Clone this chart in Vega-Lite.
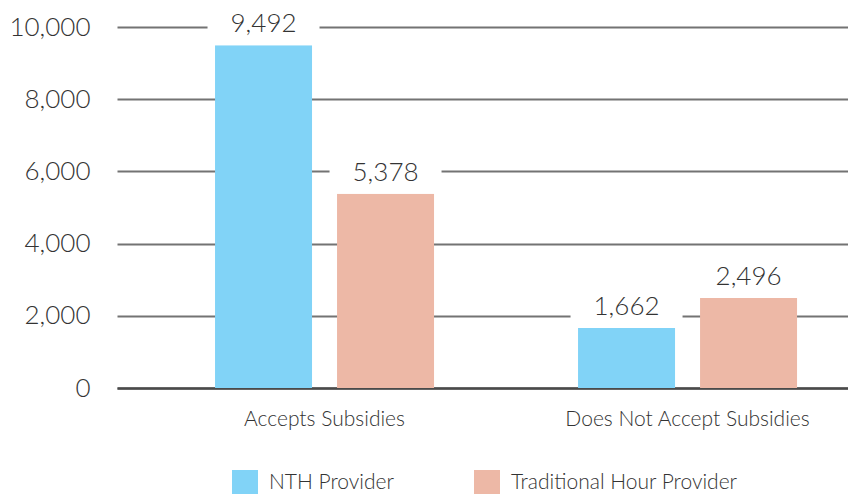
{
  "$schema": "https://vega.github.io/schema/vega-lite/v6.json",
  "width": 731,
  "height": 361,
  "autosize": {"type": "none"},
  "padding": {"left": 117, "top": 27, "right": 0, "bottom": 106},
  "background": "white",
  "config": {"view": {"stroke": null}, "font": "Lato"},
  "data": {
    "values": [
      {"group": "Accepts Subsidies", "provider": "NTH Provider", "value": 9492},
      {"group": "Accepts Subsidies", "provider": "Traditional Hour Provider", "value": 5378},
      {"group": "Does Not Accept Subsidies", "provider": "NTH Provider", "value": 1662},
      {"group": "Does Not Accept Subsidies", "provider": "Traditional Hour Provider", "value": 2496}
    ]
  },
  "encoding": {
    "x": {
      "field": "group",
      "type": "nominal",
      "sort": null,
      "scale": {"paddingInner": 0.3967, "paddingOuter": 0.2052, "align": 0.658},
      "axis": {
        "title": null,
        "labelAngle": 0,
        "ticks": false,
        "domain": true,
        "domainColor": "#4a4a4a",
        "domainWidth": 2.5,
        "labelFontSize": 21,
        "labelFont": "Lato",
        "labelFontWeight": 300,
        "labelColor": "#333333",
        "labelPadding": 20,
        "labelLimit": 500
      }
    },
    "xOffset": {
      "field": "provider",
      "type": "nominal",
      "sort": ["NTH Provider", "Traditional Hour Provider"],
      "scale": {"paddingInner": 0.205, "paddingOuter": 0}
    },
    "y": {
      "field": "value",
      "type": "quantitative",
      "scale": {"domain": [0, 10000], "nice": false},
      "axis": {
        "title": null,
        "values": [0, 2000, 4000, 6000, 8000, 10000],
        "format": ",d",
        "domain": false,
        "ticks": false,
        "grid": true,
        "gridColor": "#737373",
        "gridWidth": 2,
        "labelFontSize": 26,
        "labelFont": "Lato",
        "labelFontWeight": 300,
        "labelColor": "#333333",
        "labelPadding": 27
      }
    }
  },
  "layer": [
    {
      "mark": {"type": "bar"},
      "encoding": {
        "color": {
          "field": "provider",
          "type": "nominal",
          "sort": ["NTH Provider", "Traditional Hour Provider"],
          "scale": {"range": ["#81D3F7", "#EDB8A6"]},
          "legend": {
            "orient": "none",
            "legendX": 115,
            "legendY": 443,
            "direction": "horizontal",
            "title": null,
            "symbolType": "square",
            "symbolSize": 676,
            "symbolStrokeWidth": 0,
            "symbolOpacity": 1,
            "labelFontSize": 21,
            "labelFont": "Lato",
            "labelFontWeight": 300,
            "labelColor": "#333333",
            "labelOffset": 11,
            "labelLimit": 500,
            "columnPadding": 80,
            "padding": 0
          }
        }
      }
    },
    {
      "mark": {
        "type": "point",
        "shape": "M-1,-0.3125H1V0.3125H-1Z",
        "size": 12544,
        "filled": true,
        "color": "white",
        "opacity": 1,
        "strokeWidth": 0,
        "yOffset": -17.5
      }
    },
    {
      "mark": {
        "type": "text",
        "baseline": "alphabetic",
        "dy": -13,
        "fontSize": 26,
        "font": "Lato",
        "fontWeight": 300,
        "color": "#333333"
      },
      "encoding": {
        "text": {"field": "value", "type": "quantitative", "format": ","}
      }
    }
  ]
}
